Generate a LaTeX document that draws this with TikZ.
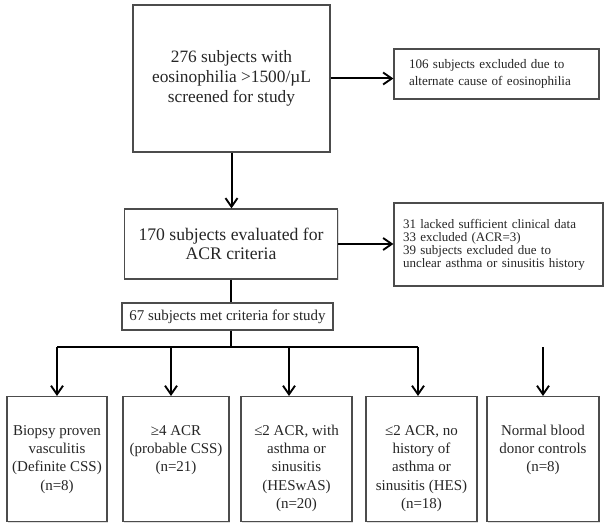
\documentclass[tikz,border=0pt]{standalone}
\usepackage{fontspec}
\setmainfont{Liberation Serif}
\usetikzlibrary{arrows.meta,shadows,calc}
\newcommand\boxtxt[2]{\parbox[c][93.75pt][t]{#1}{\centering\fontsize{11.25}{13.7}\selectfont\rule{0pt}{29pt}#2}}
\begin{document}
\begin{tikzpicture}[x=0.75pt,y=-0.75pt,
  box/.style={draw=black!70, line width=0.9pt, fill=white, text=black!85, inner sep=0pt,
    drop shadow={opacity=0.25, shadow xshift=0.8pt, shadow yshift=-0.8pt}},
  arr/.style={-{Straight Barb[length=6.5pt,width=9pt,line width=1.4pt]}, line width=1.5pt, black},
  ln/.style={line width=1.5pt, black}]
\useasboundingbox (0,0) rectangle (611,531);
\fill[white] (0,0) rectangle (611,531);

\node[box, minimum width=147.75pt, minimum height=110.25pt, align=center,
  font=\fontsize{13}{15.25}\selectfont] (top) at (231.5,78.5)
  {276 subjects with\\ eosinophilia >1500/µL\\ screened for study};

\node[box, minimum width=153.75pt, minimum height=37.5pt, inner xsep=11.25pt,
  text width=131.25pt, align=left, font=\fontsize{9.8}{12.75}\selectfont] (ex1) at (496.5,74)
  {106 subjects excluded due to\\ alternate cause of eosinophilia};

\node[box, minimum width=159.75pt, minimum height=52.5pt, align=center,
  font=\fontsize{13.25}{14.5}\selectfont] (eval) at (231,244)
  {170 subjects evaluated for\\ ACR criteria};

\node[box, minimum width=156.75pt, minimum height=62.25pt, inner xsep=6.75pt,
  text width=143.25pt, align=left, font=\fontsize{9.75}{9.8}\selectfont] (ex2) at (498.5,244.5)
  {31 lacked sufficient clinical data\\ 33 excluded (ACR=3)\\ 39 subjects excluded due to\\ unclear asthma or sinusitis history};

\node[box, minimum width=158.25pt, minimum height=20.25pt, align=center,
  font=\fontsize{11.2}{13}\selectfont] (met) at (227.5,316.5)
  {67 subjects met criteria for study};

\node[box, anchor=north] (b1) at (57,396) {\boxtxt{75pt}{Biopsy proven\\ vasculitis\\ (Definite CSS)\\ (n=8)}};
\node[box, anchor=north] (b2) at (176,396) {\boxtxt{79.5pt}{≥4 ACR\\ (probable CSS)\\ (n=21)}};
\node[box, anchor=north] (b3) at (296.5,396) {\boxtxt{83.25pt}{≤2 ACR, with\\ asthma or\\ sinusitis\\ (HESwAS)\\ (n=20)}};
\node[box, anchor=north] (b4) at (421.5,396) {\boxtxt{83.25pt}{≤2 ACR, no\\ history of\\ asthma or\\ sinusitis (HES)\\ (n=18)}};
\node[box, anchor=north] (b5) at (543,396) {\boxtxt{84pt}{Normal blood\\ donor controls\\ (n=8)}};

\coordinate (hl) at (57,347);
\coordinate (hr) at (418,347);
\coordinate (c5) at (543,347);
\coordinate (t2) at ($(b2.north)+(-5,0)$);
\coordinate (t3) at ($(b3.north)+(-7.5,0)$);
\coordinate (t4) at ($(b4.north)+(-3.5,0)$);

\draw[arr] (top.south) -- (top.south |- eval.north);
\draw[arr] (top.east) -- (top.east -| ex1.west);
\draw[arr] (eval.east) -- (eval.east -| ex2.west);
\draw[ln] (eval.south) -- (met.north -| eval.south);
\draw[ln] (met.south -| eval.south) -- (hl -| eval.south);
\draw[ln] (hl) -- (hr);
\draw[arr] (hl) -- (b1.north);
\draw[arr] (t2 |- hl) -- (t2);
\draw[arr] (t3 |- hl) -- (t3);
\draw[arr] (t4 |- hl) -- (t4);
\draw[arr] (c5) -- (b5.north);
\end{tikzpicture}
\end{document}
